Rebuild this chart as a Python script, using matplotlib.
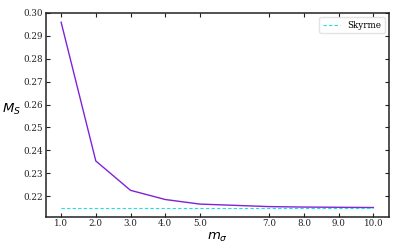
import matplotlib
matplotlib.use("Agg")
import matplotlib.pyplot as plt

m_sigma = [1.0, 2.0, 3.0, 4.0, 5.0, 7.0, 8.0, 9.0, 10.0]
M_S = [0.2959, 0.2354, 0.2226, 0.2186, 0.2166, 0.2155, 0.2153, 0.2152, 0.2151]
skyrme = [0.2151] * len(m_sigma)
xtick_labels = ["1.0", "2.0", "3.0", "4.0", "5.0", "7.0", "8.0", "9.0", "10.0"]
ytick_values = [0.22, 0.23, 0.24, 0.25, 0.26, 0.27, 0.28, 0.29, 0.30]
ytick_labels = ["0.22", "0.23", "0.24", "0.25", "0.26", "0.27", "0.28", "0.29", "0.30"]

plt.rcParams['font.family'] = ['DejaVu Serif']
plt.rcParams['mathtext.fontset'] = 'dejavusans'

fig = plt.figure(figsize=(3.99, 2.49), dpi=100)
ax = fig.add_axes([45.5/399, 1 - 216.7/249, (389 - 45.5)/399, (216.7 - 12.7)/249])

ax.plot(m_sigma, M_S, color='#7f22d8', lw=1.0)
ax.plot(m_sigma, skyrme, color='#1ee0e0', lw=0.8, ls=(0, (3, 2)), label='Skyrme')

ax.set_xticks(m_sigma)
ax.set_xticklabels(xtick_labels)
ax.set_yticks(ytick_values)
ax.set_yticklabels(ytick_labels)
ax.set_ylim(0.2111, 0.30005)
ax.set_xlim(0.55, 10.45)

ax.tick_params(direction='in', top=True, right=True, labelsize=6.3, length=3, width=0.8, pad=2,
               colors='#222222')
for s in ax.spines.values():
    s.set_linewidth(1.1)
    s.set_color('#222222')

ax.set_xlabel(r'$m_\sigma$', fontsize=9.5, labelpad=2)
ax.set_ylabel(r'$M_S$', fontsize=9.5, rotation=0, labelpad=2)
ax.yaxis.set_label_coords(-0.1, 0.49)

leg = ax.legend(loc='upper right', fontsize=6.3, frameon=True, handlelength=2.0)
leg.get_frame().set_edgecolor('#dddddd')

fig.savefig('out.png', dpi=100)
